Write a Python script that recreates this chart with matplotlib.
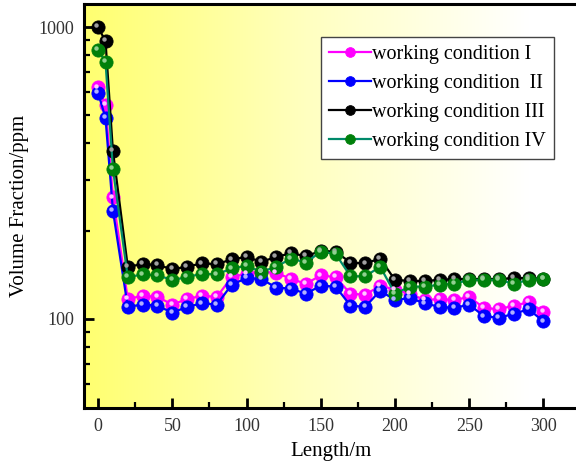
import numpy as np
import matplotlib
matplotlib.use("Agg")
import matplotlib.pyplot as plt
from matplotlib.colors import LinearSegmentedColormap
from matplotlib.ticker import FixedLocator, NullFormatter
import matplotlib.transforms as mtransforms

plt.rcParams['font.family'] = ['Liberation Serif', 'DejaVu Serif']

# data
length = [0, 5, 10] + list(range(20, 301, 10))

cond_1 = [621, 540, 261, 117, 120, 119, 112, 117, 120, 119, 139, 143, 145, 144, 137, 132,
          141, 139, 122, 121, 130, 126, 122, 116, 117, 116, 119, 109, 108, 111, 114, 106]
cond_2 = [596, 488, 235, 110, 112, 111, 105, 110, 113, 112, 131, 138, 137, 128, 127, 122,
          130, 129, 111, 110, 125, 116, 118, 113, 110, 109, 112, 102, 101, 104, 108, 98]
cond_3 = [1000, 895, 376, 151, 154, 153, 148, 151, 155, 154, 160, 163, 157, 163, 168, 164,
          171, 170, 156, 155, 161, 136, 135, 135, 136, 137, 137, 137, 137, 138, 138, 137]
cond_4 = [834, 760, 327, 139, 142, 141, 136, 139, 143, 142, 149, 152, 145, 151, 161, 156,
          170, 167, 140, 140, 151, 122, 129, 129, 131, 132, 136, 136, 136, 132, 136, 137]

labels = ["working condition I", "working condition  II",
          "working condition III", "working condition IV"]
series = [cond_1, cond_2, cond_3, cond_4]
line_cols = ['#FF00FF', '#0000FF', '#000000', '#00896A']
mark_cols = ['#FF00FF', '#0000FF', '#000000', '#00800A']
hi_cols = ['#FFC8FF', '#B0B0FF', '#A0A0A0', '#90D090']

fig = plt.figure(figsize=(5.76, 4.67), dpi=100)
ax = fig.add_axes([0.1458, 0.1263, 0.857, 0.8651])

# yellow-to-white background
cmap = LinearSegmentedColormap.from_list('bg', [(0, '#FFFF70'), (0.45, '#FFFFC0'), (0.9, '#FFFFFF'), (1, '#FFFFFF')])
grad = np.linspace(0, 1, 256).reshape(1, -1)
ax.imshow(grad, cmap=cmap, aspect='auto', extent=[0, 1, 0, 1], transform=ax.transAxes, zorder=0)

hi_tr = mtransforms.offset_copy(ax.transData, fig=fig, x=-1.3, y=1.3, units='points')
for ys, lab, lc, mc, hc in zip(series, labels, line_cols, mark_cols, hi_cols):
    ax.plot(length, ys, color=lc, lw=1.6, marker='o', ms=9.5, mfc=mc,
            mec=mc, mew=0.6, label=lab, zorder=3)
    ax.plot(length, ys, ls='none', marker='o', ms=3.2, mfc=hc, mec='none',
            transform=hi_tr, zorder=4)

ax.set_yscale('log')
ax.set_xlim(-9.5, 323)
ax.set_ylim(49.5, 1200)
ax.set_xticks([0, 50, 100, 150, 200, 250, 300])
ax.xaxis.set_minor_locator(FixedLocator([25, 75, 125, 175, 225, 275]))
ax.yaxis.set_major_locator(FixedLocator([100, 1000]))
ax.yaxis.set_minor_locator(FixedLocator([60, 70, 80, 90, 200, 300, 400, 500, 600, 700, 800, 900]))
ax.yaxis.set_minor_formatter(NullFormatter())
ax.set_yticklabels(['100', '1000'])

ax.tick_params(which='major', direction='in', length=7, width=2, labelsize=13,
               labelcolor='#333333', top=False, right=False, pad=7)
ax.tick_params(which='minor', direction='in', length=4, width=1.6, top=False, right=False)
for sp in ax.spines.values():
    sp.set_linewidth(2.2)

ax.set_xlabel('Length/m', fontsize=15, labelpad=5)
ax.set_ylabel('Volume Fraction/ppm', fontsize=15, labelpad=7)

leg = ax.legend(loc='upper right', bbox_to_anchor=(0.952, 0.918), fontsize=14.5,
                fancybox=False, framealpha=1, edgecolor='#444444', handlelength=2.1,
                handletextpad=0.05, borderpad=0.4, labelspacing=0.48, borderaxespad=0)
leg.get_frame().set_linewidth(1.0)
for h in leg.legend_handles:
    h.set_markersize(7)

fig.savefig('out.png', dpi=100)
